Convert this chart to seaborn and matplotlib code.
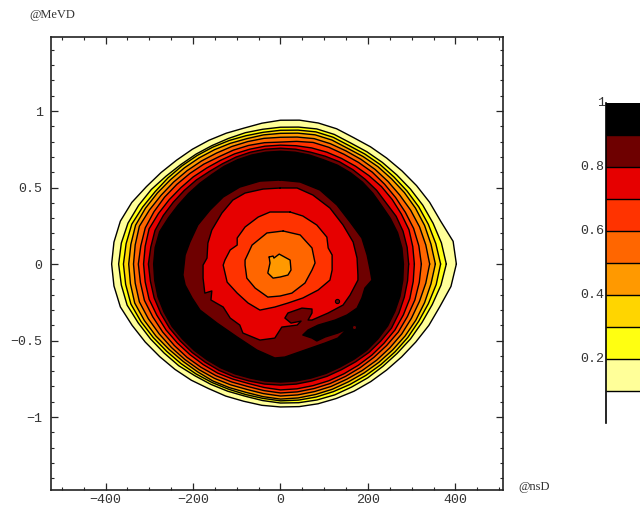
import numpy as np
import matplotlib
matplotlib.use("Agg")
import matplotlib.pyplot as plt
from matplotlib.colors import ListedColormap
from matplotlib.ticker import MultipleLocator
import seaborn as sns

sns.set_style("ticks")
plt.rcParams["font.family"] = ["Liberation Mono", "DejaVu Sans Mono"]

# contour levels and their band colours
band_colors = ["#FFFF99", "#FFFF11", "#FFD500", "#FF9900", "#FF6600",
               "#FF3300", "#E60000", "#6E0000", "#000000"]
bar_levels = [0.95, 0.85, 0.75, 0.65, 0.55, 0.45, 0.35, 0.25, 0.15, 0.05]
bar_colors = ["#000000", "#6E0000", "#E60000", "#FF3300", "#FF6600",
              "#FF9900", "#FFD500", "#FFFF11", "#FFFF99", "#FFFFFF"]

# outer contours: radius in ns every 7.5 degrees (1 MeV = 350 ns on the plot)
angles_deg = [0, 7.5, 15, 22.5, 30, 37.5, 45, 52.5, 60, 67.5, 75, 82.5,
              90, 97.5, 105, 112.5, 120, 127.5, 135, 142.5, 150, 157.5, 165, 172.5,
              180, 187.5, 195, 202.5, 210, 217.5, 225, 232.5, 240, 247.5, 255, 262.5,
              270, 277.5, 285, 292.5, 300, 307.5, 315, 322.5, 330, 337.5, 345, 352.5]
ns_per_mev = 350
r_01 = [402, 398, 379, 369, 359, 350, 343, 338, 334, 335, 334, 332, 329, 325, 322, 324,
        327, 331, 336, 344, 354, 368, 379, 384, 386, 384, 379, 367, 357, 348, 341, 335,
        329, 327, 325, 326, 327, 329, 331, 333, 336, 339, 343, 349, 357, 367, 377, 393]
r_02 = [379, 371, 361, 352, 343, 335, 329, 324, 320, 321, 320, 316, 313, 311, 311, 311,
        313, 317, 322, 330, 341, 351, 361, 367, 370, 367, 363, 352, 343, 335, 329, 322,
        318, 315, 313, 315, 318, 320, 322, 324, 325, 328, 331, 336, 343, 350, 359, 370]
r_03 = [366, 358, 350, 342, 334, 327, 322, 317, 313, 314, 313, 309, 306, 304, 304, 306,
        309, 313, 318, 324, 331, 341, 352, 356, 359, 357, 354, 345, 336, 328, 322, 317,
        313, 310, 309, 310, 313, 314, 315, 316, 318, 321, 325, 330, 336, 342, 350, 359]
r_04 = [354, 347, 341, 334, 327, 320, 315, 310, 306, 307, 306, 302, 299, 298, 297, 299,
        302, 306, 311, 317, 325, 334, 343, 345, 347, 346, 345, 337, 329, 321, 315, 311,
        309, 306, 304, 306, 309, 309, 309, 310, 311, 314, 318, 323, 329, 335, 341, 347]
r_05 = [341, 335, 329, 322, 315, 310, 306, 302, 299, 298, 297, 293, 290, 290, 290, 291,
        293, 297, 302, 308, 315, 324, 334, 335, 336, 335, 334, 327, 320, 314, 309, 305,
        302, 299, 297, 299, 302, 302, 302, 303, 304, 307, 311, 315, 320, 324, 329, 335]
r_06 = [322, 319, 315, 309, 304, 300, 297, 293, 290, 289, 288, 283, 279, 280, 281, 282,
        283, 288, 293, 299, 306, 313, 320, 322, 325, 323, 322, 316, 311, 306, 302, 298,
        295, 292, 290, 292, 295, 295, 295, 296, 297, 299, 302, 306, 311, 314, 318, 320]
r_07 = [306, 305, 304, 299, 295, 291, 286, 282, 279, 277, 275, 273, 272, 272, 272, 273,
        274, 277, 282, 287, 294, 302, 311, 312, 313, 312, 311, 306, 302, 297, 293, 290,
        288, 285, 283, 285, 288, 288, 288, 289, 290, 292, 295, 298, 302, 304, 306, 306]
r_08 = [293, 292, 290, 286, 279, 277, 274, 272, 270, 267, 265, 265, 265, 265, 265, 265,
        265, 267, 272, 277, 283, 290, 297, 299, 302, 300, 299, 296, 293, 289, 286, 283,
        281, 279, 277, 277, 277, 277, 277, 278, 279, 282, 286, 289, 293, 293, 293, 293]
r_09 = [281, 280, 277, 272, 267, 266, 265, 263, 261, 258, 258, 258, 258, 258, 258, 258,
        258, 258, 261, 265, 270, 277, 286, 289, 290, 290, 290, 288, 286, 282, 279, 276,
        274, 272, 270, 270, 270, 270, 270, 271, 272, 275, 279, 281, 283, 283, 283, 282]

# inner contours, going down again towards the centre
x_in_09 = [-1, 45, 90, 129, 159, 186, 198, 205, 209, 193, 186, 175, 152, 125, 86, 63, 51, 72, 83, 102, 131,
           152, 131, 102, 56, 10, -13, -54, -99, -145, -184, -202, -218, -223, -218, -207, -189, -161,
           -131, -93, -47]
y_in_09 = [.549, .536, .484, .386, .275, .170, .059, -.039, -.105, -.157, -.222, -.288, -.333, -.366,
           -.399, -.431, -.464, -.484, -.503, -.477, -.451, -.425, -.484, -.516, -.562, -.608, -.614,
           -.562, -.477, -.386, -.301, -.222, -.137, -.072, .059, .144, .255, .353, .438, .503, .542]
x_in_08 = [-1, 38, 74, 113, 143, 166, 175, 177, 177, 159, 143, 109, 72, 63, 72, 72, 49, 17, 10, 24, 47, 38,
           3, -13, -47, -86, -93, -115, -131, -159, -157, -173, -177, -177, -168, -166, -157, -134, -109,
           -81, -40]
y_in_08 = [.497, .497, .451, .366, .255, .144, .039, -.072, -.105, -.203, -.268, -.320, -.366, -.366,
           -.320, -.294, -.288, -.320, -.353, -.386, -.373, -.399, -.412, -.484, -.497, -.451, -.399,
           -.353, -.281, -.235, -.176, -.190, -.092, -.007, .039, .137, .222, .333, .418, .464, .490]
x_in_07 = [22, 51, 83, 106, 109, 118, 118, 113, 86, 51, 17, -13, -47, -74, -99, -122, -131, -127, -115, -99,
           -99, -81, -51, -24]
y_in_07 = [.340, .314, .255, .176, .105, .059, -.039, -.105, -.170, -.222, -.255, -.281, -.301, -.255,
           -.190, -.118, -.007, .026, .092, .124, .170, .242, .307, .340]
x_in_06 = [6, 45, 72, 79, 72, 56, 26, -1, -29, -58, -77, -81, -81, -65, -31]
y_in_06 = [.216, .190, .105, .007, -.039, -.124, -.190, -.209, -.216, -.157, -.092, -.007, .026, .124, .203]
x_in_05 = [-26, -17, -15, -3, 22, 24, 17, -1, -17, -29, -24]
y_in_05 = [.046, .052, .039, .065, .026, -.039, -.072, -.085, -.092, -.059, .007]

# two small dark red spots
spot_x = [129, 168]
spot_y = [-.242, -.412]

fig = plt.figure(figsize=(6.4, 5.08), dpi=100)
ax = fig.add_axes([51 / 640, 1 - 490 / 508, 452 / 640, 453 / 508])


def draw_band(xs, ys, color):
    xs = list(xs) + [xs[0]]
    ys = list(ys) + [ys[0]]
    ax.fill(xs, ys, color=color, lw=0)
    sns.lineplot(x=xs, y=ys, sort=False, estimator=None, color="black", lw=1.0, ax=ax)


theta = np.radians(angles_deg)
outer = [r_01, r_02, r_03, r_04, r_05, r_06, r_07, r_08, r_09]
for radius, color in zip(outer, band_colors):
    radius = np.array(radius)
    draw_band(radius * np.cos(theta), radius * np.sin(theta) / ns_per_mev, color)

draw_band(x_in_09, y_in_09, "#6E0000")
draw_band(x_in_08, y_in_08, "#E60000")
draw_band(x_in_07, y_in_07, "#FF3300")
draw_band(x_in_06, y_in_06, "#FF6600")
draw_band(x_in_05, y_in_05, "#FF9900")
sns.scatterplot(x=spot_x, y=spot_y, color="#6E0000", edgecolor="black", s=9, lw=0.8, ax=ax)

ax.set_xlim(-524.6, 508.6)
ax.set_ylim(-1.477, 1.484)
ax.set_xlabel("")
ax.set_ylabel("")
ax.set_xticks([-400, -200, 0, 200, 400])
ax.set_xticklabels(["\u2212400", "\u2212200", "0", "200", "400"])
ax.set_yticks([-1, -0.5, 0, 0.5, 1])
ax.set_yticklabels(["\u22121", "\u22120.5", "0", "0.5", "1"])
ax.xaxis.set_minor_locator(MultipleLocator(50))
ax.yaxis.set_minor_locator(MultipleLocator(0.1))
ax.tick_params(which="major", direction="in", length=5, width=0.9, top=True, right=True,
               labelsize=9.6, labelcolor="#333333", pad=6)
ax.tick_params(axis="x", which="major", pad=3)
ax.tick_params(which="minor", direction="in", length=2.5, width=0.8, top=True, right=True)
for side in ax.spines.values():
    side.set_linewidth(1.2)
    side.set_color("#222222")

fig.text(29 / 640, 1 - 15 / 508, "@MeVD", fontsize=9, color="#333333", va="center", ha="left",
         family=["Liberation Serif"])
fig.text(518 / 640, 1 - 487 / 508, "@nsD", fontsize=9, color="#333333", va="center", ha="left",
         family=["Liberation Serif"])

# level bar on the right, cut by the edge of the picture
cax = fig.add_axes([606 / 640, 1 - 423 / 508, 34 / 640, 320 / 508])
bar_table = np.array(bar_levels).reshape(-1, 1)
sns.heatmap(bar_table, cmap=ListedColormap(bar_colors[::-1]), cbar=False, ax=cax,
            xticklabels=False, vmin=0, vmax=1)
cax.hlines([1, 2, 3, 4, 5, 6, 7, 8, 9], 0, 1, color="black", lw=1.0)
cax.set_yticks([0, 2, 4, 6, 8])
cax.set_yticklabels(["1", "0.8", "0.6", "0.4", "0.2"], rotation=0)
cax.tick_params(axis="y", length=0, labelsize=9.6, labelcolor="#333333", pad=1)
for name, side in cax.spines.items():
    side.set_visible(name == "left")
    side.set_linewidth(1.2)
    side.set_color("black")

fig.savefig("out.png", dpi=100)
